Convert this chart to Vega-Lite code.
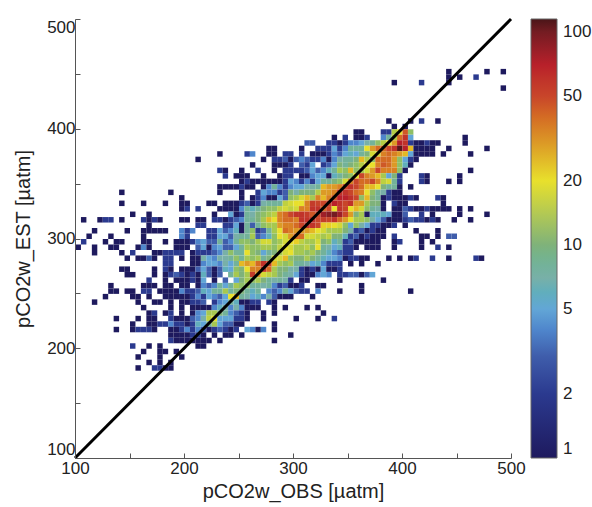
{"$schema":"https://vega.github.io/schema/vega-lite/v6.json","width":436,"height":439,"autosize":"none","padding":{"left":75,"top":19,"right":81,"bottom":49},"background":"white","config":{"font":"Liberation Sans","view":{"stroke":null}},
"layer":[{"data":{"values":[
{"x":440,"y":450,"n":1},{"x":475,"y":450,"n":1},{"x":490,"y":450,"n":1},
{"x":440,"y":445,"n":1},{"x":450,"y":445,"n":1},{"x":465,"y":445,"n":2},
{"x":390,"y":440,"n":1},{"x":415,"y":440,"n":2},{"x":440,"y":440,"n":1},
{"x":490,"y":435,"n":1},
{"x":385,"y":405,"n":1},{"x":405,"y":405,"n":1},{"x":415,"y":405,"n":2},{"x":430,"y":405,"n":1},
{"x":390,"y":400,"n":1},{"x":400,"y":400,"n":1},
{"x":355,"y":395,"n":1},{"x":360,"y":395,"n":1},{"x":380,"y":395,"n":2},{"x":385,"y":395,"n":2},{"x":390,"y":395,"n":15},{"x":395,"y":395,"n":20},{"x":400,"y":395,"n":45},{"x":405,"y":395,"n":12},
{"x":335,"y":390,"n":1},{"x":345,"y":390,"n":2},{"x":355,"y":390,"n":1},{"x":360,"y":390,"n":1},{"x":365,"y":390,"n":2},{"x":380,"y":390,"n":4},{"x":385,"y":390,"n":8},{"x":390,"y":390,"n":15},{"x":395,"y":390,"n":40},{"x":400,"y":390,"n":60},{"x":405,"y":390,"n":5},{"x":455,"y":390,"n":1},
{"x":310,"y":385,"n":3},{"x":315,"y":385,"n":3},{"x":330,"y":385,"n":2},{"x":335,"y":385,"n":2},{"x":340,"y":385,"n":1},{"x":345,"y":385,"n":2},{"x":350,"y":385,"n":4},{"x":355,"y":385,"n":4},{"x":360,"y":385,"n":5},{"x":365,"y":385,"n":7},{"x":370,"y":385,"n":8},{"x":375,"y":385,"n":12},{"x":380,"y":385,"n":15},{"x":385,"y":385,"n":20},{"x":390,"y":385,"n":30},{"x":395,"y":385,"n":70},{"x":400,"y":385,"n":60},{"x":405,"y":385,"n":2},{"x":410,"y":385,"n":1},{"x":415,"y":385,"n":1},{"x":420,"y":385,"n":2},{"x":425,"y":385,"n":1},{"x":430,"y":385,"n":1},{"x":455,"y":385,"n":1},
{"x":275,"y":380,"n":1},{"x":280,"y":380,"n":1},{"x":305,"y":380,"n":1},{"x":320,"y":380,"n":2},{"x":325,"y":380,"n":2},{"x":330,"y":380,"n":2},{"x":335,"y":380,"n":5},{"x":340,"y":380,"n":2},{"x":345,"y":380,"n":4},{"x":350,"y":380,"n":8},{"x":355,"y":380,"n":8},{"x":360,"y":380,"n":8},{"x":365,"y":380,"n":20},{"x":370,"y":380,"n":30},{"x":375,"y":380,"n":40},{"x":380,"y":380,"n":40},{"x":385,"y":380,"n":50},{"x":390,"y":380,"n":60},{"x":395,"y":380,"n":110},{"x":400,"y":380,"n":70},{"x":405,"y":380,"n":25},{"x":410,"y":380,"n":1},{"x":415,"y":380,"n":1},{"x":420,"y":380,"n":1},{"x":425,"y":380,"n":1},{"x":440,"y":380,"n":1},{"x":475,"y":380,"n":1},
{"x":230,"y":375,"n":1},{"x":255,"y":375,"n":2},{"x":260,"y":375,"n":4},{"x":275,"y":375,"n":1},{"x":280,"y":375,"n":1},{"x":290,"y":375,"n":2},{"x":295,"y":375,"n":2},{"x":305,"y":375,"n":2},{"x":315,"y":375,"n":1},{"x":320,"y":375,"n":1},{"x":325,"y":375,"n":1},{"x":330,"y":375,"n":2},{"x":335,"y":375,"n":4},{"x":340,"y":375,"n":3},{"x":345,"y":375,"n":5},{"x":350,"y":375,"n":6},{"x":355,"y":375,"n":5},{"x":360,"y":375,"n":8},{"x":365,"y":375,"n":10},{"x":370,"y":375,"n":18},{"x":375,"y":375,"n":18},{"x":380,"y":375,"n":35},{"x":385,"y":375,"n":40},{"x":390,"y":375,"n":35},{"x":395,"y":375,"n":30},{"x":400,"y":375,"n":25},{"x":405,"y":375,"n":5},{"x":410,"y":375,"n":1},{"x":415,"y":375,"n":1},{"x":420,"y":375,"n":1},{"x":425,"y":375,"n":1},{"x":435,"y":375,"n":1},{"x":460,"y":375,"n":1},
{"x":210,"y":370,"n":1},{"x":270,"y":370,"n":1},{"x":280,"y":370,"n":2},{"x":285,"y":370,"n":2},{"x":290,"y":370,"n":3},{"x":295,"y":370,"n":1},{"x":300,"y":370,"n":3},{"x":305,"y":370,"n":4},{"x":310,"y":370,"n":3},{"x":315,"y":370,"n":2},{"x":320,"y":370,"n":2},{"x":325,"y":370,"n":4},{"x":330,"y":370,"n":1},{"x":335,"y":370,"n":4},{"x":340,"y":370,"n":7},{"x":345,"y":370,"n":8},{"x":350,"y":370,"n":8},{"x":355,"y":370,"n":10},{"x":360,"y":370,"n":25},{"x":365,"y":370,"n":15},{"x":370,"y":370,"n":12},{"x":375,"y":370,"n":40},{"x":380,"y":370,"n":40},{"x":385,"y":370,"n":40},{"x":390,"y":370,"n":30},{"x":395,"y":370,"n":12},{"x":400,"y":370,"n":5},{"x":405,"y":370,"n":2},{"x":410,"y":370,"n":1},
{"x":260,"y":365,"n":1},{"x":280,"y":365,"n":1},{"x":285,"y":365,"n":1},{"x":290,"y":365,"n":1},{"x":295,"y":365,"n":2},{"x":305,"y":365,"n":3},{"x":310,"y":365,"n":2},{"x":315,"y":365,"n":5},{"x":325,"y":365,"n":2},{"x":330,"y":365,"n":3},{"x":335,"y":365,"n":5},{"x":340,"y":365,"n":10},{"x":345,"y":365,"n":8},{"x":350,"y":365,"n":10},{"x":355,"y":365,"n":12},{"x":360,"y":365,"n":15},{"x":365,"y":365,"n":20},{"x":370,"y":365,"n":20},{"x":375,"y":365,"n":35},{"x":380,"y":365,"n":45},{"x":385,"y":365,"n":40},{"x":390,"y":365,"n":30},{"x":395,"y":365,"n":12},{"x":400,"y":365,"n":6},{"x":405,"y":365,"n":1},
{"x":230,"y":360,"n":2},{"x":235,"y":360,"n":1},{"x":250,"y":360,"n":1},{"x":265,"y":360,"n":2},{"x":280,"y":360,"n":1},{"x":290,"y":360,"n":2},{"x":295,"y":360,"n":2},{"x":300,"y":360,"n":2},{"x":305,"y":360,"n":2},{"x":310,"y":360,"n":3},{"x":315,"y":360,"n":5},{"x":320,"y":360,"n":3},{"x":325,"y":360,"n":4},{"x":330,"y":360,"n":6},{"x":335,"y":360,"n":8},{"x":340,"y":360,"n":14},{"x":345,"y":360,"n":12},{"x":350,"y":360,"n":25},{"x":355,"y":360,"n":12},{"x":360,"y":360,"n":14},{"x":365,"y":360,"n":18},{"x":370,"y":360,"n":30},{"x":375,"y":360,"n":50},{"x":380,"y":360,"n":35},{"x":385,"y":360,"n":35},{"x":390,"y":360,"n":35},{"x":395,"y":360,"n":12},{"x":400,"y":360,"n":1},{"x":460,"y":360,"n":1},
{"x":235,"y":355,"n":2},{"x":245,"y":355,"n":1},{"x":250,"y":355,"n":1},{"x":255,"y":355,"n":1},{"x":270,"y":355,"n":1},{"x":285,"y":355,"n":1},{"x":290,"y":355,"n":2},{"x":295,"y":355,"n":2},{"x":305,"y":355,"n":1},{"x":310,"y":355,"n":1},{"x":315,"y":355,"n":4},{"x":320,"y":355,"n":5},{"x":325,"y":355,"n":5},{"x":330,"y":355,"n":1},{"x":335,"y":355,"n":6},{"x":340,"y":355,"n":8},{"x":345,"y":355,"n":10},{"x":350,"y":355,"n":12},{"x":355,"y":355,"n":20},{"x":360,"y":355,"n":50},{"x":365,"y":355,"n":35},{"x":370,"y":355,"n":30},{"x":375,"y":355,"n":25},{"x":380,"y":355,"n":14},{"x":385,"y":355,"n":5},{"x":390,"y":355,"n":10},{"x":395,"y":355,"n":2},{"x":415,"y":355,"n":2},{"x":420,"y":355,"n":1},{"x":450,"y":355,"n":1},
{"x":250,"y":350,"n":1},{"x":255,"y":350,"n":2},{"x":260,"y":350,"n":1},{"x":265,"y":350,"n":1},{"x":270,"y":350,"n":1},{"x":275,"y":350,"n":1},{"x":280,"y":350,"n":1},{"x":285,"y":350,"n":1},{"x":290,"y":350,"n":2},{"x":295,"y":350,"n":5},{"x":300,"y":350,"n":4},{"x":305,"y":350,"n":2},{"x":310,"y":350,"n":4},{"x":315,"y":350,"n":2},{"x":320,"y":350,"n":5},{"x":325,"y":350,"n":8},{"x":330,"y":350,"n":8},{"x":335,"y":350,"n":10},{"x":340,"y":350,"n":12},{"x":345,"y":350,"n":18},{"x":350,"y":350,"n":35},{"x":355,"y":350,"n":50},{"x":360,"y":350,"n":40},{"x":365,"y":350,"n":40},{"x":370,"y":350,"n":50},{"x":375,"y":350,"n":35},{"x":380,"y":350,"n":16},{"x":385,"y":350,"n":18},{"x":390,"y":350,"n":8},{"x":395,"y":350,"n":2},{"x":415,"y":350,"n":2},{"x":420,"y":350,"n":1},{"x":440,"y":350,"n":1},{"x":450,"y":350,"n":1},
{"x":230,"y":345,"n":1},{"x":235,"y":345,"n":1},{"x":240,"y":345,"n":1},{"x":245,"y":345,"n":1},{"x":250,"y":345,"n":2},{"x":255,"y":345,"n":1},{"x":260,"y":345,"n":1},{"x":270,"y":345,"n":1},{"x":275,"y":345,"n":4},{"x":280,"y":345,"n":8},{"x":285,"y":345,"n":4},{"x":290,"y":345,"n":2},{"x":295,"y":345,"n":4},{"x":300,"y":345,"n":5},{"x":305,"y":345,"n":5},{"x":310,"y":345,"n":7},{"x":315,"y":345,"n":7},{"x":320,"y":345,"n":8},{"x":325,"y":345,"n":25},{"x":330,"y":345,"n":30},{"x":335,"y":345,"n":30},{"x":340,"y":345,"n":35},{"x":345,"y":345,"n":50},{"x":350,"y":345,"n":60},{"x":355,"y":345,"n":50},{"x":360,"y":345,"n":40},{"x":365,"y":345,"n":25},{"x":370,"y":345,"n":25},{"x":375,"y":345,"n":20},{"x":380,"y":345,"n":10},{"x":385,"y":345,"n":8},{"x":390,"y":345,"n":8},{"x":395,"y":345,"n":1},{"x":405,"y":345,"n":1},
{"x":140,"y":340,"n":1},{"x":185,"y":340,"n":1},{"x":230,"y":340,"n":1},{"x":250,"y":340,"n":1},{"x":265,"y":340,"n":2},{"x":270,"y":340,"n":5},{"x":275,"y":340,"n":4},{"x":280,"y":340,"n":4},{"x":285,"y":340,"n":2},{"x":290,"y":340,"n":3},{"x":295,"y":340,"n":10},{"x":300,"y":340,"n":7},{"x":305,"y":340,"n":10},{"x":310,"y":340,"n":10},{"x":315,"y":340,"n":10},{"x":320,"y":340,"n":15},{"x":325,"y":340,"n":30},{"x":330,"y":340,"n":30},{"x":335,"y":340,"n":35},{"x":340,"y":340,"n":60},{"x":345,"y":340,"n":60},{"x":350,"y":340,"n":50},{"x":355,"y":340,"n":40},{"x":360,"y":340,"n":35},{"x":365,"y":340,"n":20},{"x":370,"y":340,"n":12},{"x":375,"y":340,"n":8},{"x":380,"y":340,"n":7},{"x":385,"y":340,"n":2},{"x":390,"y":340,"n":1},{"x":395,"y":340,"n":1},
{"x":195,"y":335,"n":1},{"x":250,"y":335,"n":1},{"x":260,"y":335,"n":1},{"x":265,"y":335,"n":2},{"x":270,"y":335,"n":4},{"x":275,"y":335,"n":1},{"x":280,"y":335,"n":1},{"x":285,"y":335,"n":5},{"x":290,"y":335,"n":3},{"x":295,"y":335,"n":12},{"x":300,"y":335,"n":14},{"x":305,"y":335,"n":18},{"x":310,"y":335,"n":25},{"x":315,"y":335,"n":14},{"x":320,"y":335,"n":35},{"x":325,"y":335,"n":25},{"x":330,"y":335,"n":35},{"x":335,"y":335,"n":45},{"x":340,"y":335,"n":70},{"x":345,"y":335,"n":70},{"x":350,"y":335,"n":60},{"x":355,"y":335,"n":50},{"x":360,"y":335,"n":12},{"x":365,"y":335,"n":25},{"x":370,"y":335,"n":10},{"x":375,"y":335,"n":8},{"x":380,"y":335,"n":1},{"x":385,"y":335,"n":2},{"x":390,"y":335,"n":1},{"x":395,"y":335,"n":1},{"x":400,"y":335,"n":1},{"x":405,"y":335,"n":2},{"x":410,"y":335,"n":1},{"x":430,"y":335,"n":2},{"x":435,"y":335,"n":1},
{"x":140,"y":330,"n":1},{"x":160,"y":330,"n":1},{"x":180,"y":330,"n":1},{"x":195,"y":330,"n":1},{"x":200,"y":330,"n":1},{"x":220,"y":330,"n":1},{"x":225,"y":330,"n":1},{"x":235,"y":330,"n":1},{"x":240,"y":330,"n":1},{"x":245,"y":330,"n":1},{"x":250,"y":330,"n":2},{"x":255,"y":330,"n":3},{"x":260,"y":330,"n":1},{"x":265,"y":330,"n":2},{"x":270,"y":330,"n":7},{"x":275,"y":330,"n":8},{"x":280,"y":330,"n":8},{"x":285,"y":330,"n":8},{"x":290,"y":330,"n":16},{"x":295,"y":330,"n":18},{"x":300,"y":330,"n":20},{"x":305,"y":330,"n":20},{"x":310,"y":330,"n":35},{"x":315,"y":330,"n":55},{"x":320,"y":330,"n":50},{"x":325,"y":330,"n":50},{"x":330,"y":330,"n":55},{"x":335,"y":330,"n":70},{"x":340,"y":330,"n":60},{"x":345,"y":330,"n":50},{"x":350,"y":330,"n":60},{"x":355,"y":330,"n":30},{"x":360,"y":330,"n":30},{"x":365,"y":330,"n":14},{"x":370,"y":330,"n":10},{"x":375,"y":330,"n":10},{"x":380,"y":330,"n":1},{"x":390,"y":330,"n":2},{"x":395,"y":330,"n":1},{"x":400,"y":330,"n":1},{"x":435,"y":330,"n":1},
{"x":195,"y":325,"n":1},{"x":200,"y":325,"n":2},{"x":210,"y":325,"n":2},{"x":230,"y":325,"n":1},{"x":235,"y":325,"n":1},{"x":240,"y":325,"n":1},{"x":245,"y":325,"n":1},{"x":250,"y":325,"n":4},{"x":255,"y":325,"n":8},{"x":260,"y":325,"n":6},{"x":265,"y":325,"n":8},{"x":270,"y":325,"n":10},{"x":275,"y":325,"n":12},{"x":280,"y":325,"n":12},{"x":285,"y":325,"n":16},{"x":290,"y":325,"n":18},{"x":295,"y":325,"n":16},{"x":300,"y":325,"n":18},{"x":305,"y":325,"n":35},{"x":310,"y":325,"n":35},{"x":315,"y":325,"n":60},{"x":320,"y":325,"n":60},{"x":325,"y":325,"n":40},{"x":330,"y":325,"n":50},{"x":335,"y":325,"n":20},{"x":340,"y":325,"n":60},{"x":345,"y":325,"n":50},{"x":350,"y":325,"n":20},{"x":355,"y":325,"n":25},{"x":360,"y":325,"n":18},{"x":365,"y":325,"n":12},{"x":370,"y":325,"n":8},{"x":375,"y":325,"n":7},{"x":380,"y":325,"n":1},{"x":390,"y":325,"n":1},{"x":395,"y":325,"n":1},{"x":400,"y":325,"n":3},{"x":405,"y":325,"n":2},{"x":410,"y":325,"n":1},{"x":415,"y":325,"n":1},{"x":420,"y":325,"n":2},{"x":425,"y":325,"n":1},{"x":430,"y":325,"n":1},{"x":435,"y":325,"n":1},{"x":440,"y":325,"n":1},{"x":450,"y":325,"n":1},{"x":460,"y":325,"n":1},
{"x":150,"y":320,"n":1},{"x":165,"y":320,"n":1},{"x":225,"y":320,"n":1},{"x":240,"y":320,"n":5},{"x":245,"y":320,"n":1},{"x":250,"y":320,"n":2},{"x":255,"y":320,"n":8},{"x":260,"y":320,"n":7},{"x":265,"y":320,"n":10},{"x":270,"y":320,"n":12},{"x":275,"y":320,"n":14},{"x":280,"y":320,"n":16},{"x":285,"y":320,"n":35},{"x":290,"y":320,"n":40},{"x":295,"y":320,"n":50},{"x":300,"y":320,"n":60},{"x":305,"y":320,"n":60},{"x":310,"y":320,"n":55},{"x":315,"y":320,"n":45},{"x":320,"y":320,"n":50},{"x":325,"y":320,"n":80},{"x":330,"y":320,"n":90},{"x":335,"y":320,"n":100},{"x":340,"y":320,"n":80},{"x":345,"y":320,"n":50},{"x":350,"y":320,"n":30},{"x":355,"y":320,"n":10},{"x":360,"y":320,"n":14},{"x":365,"y":320,"n":1},{"x":370,"y":320,"n":6},{"x":375,"y":320,"n":6},{"x":380,"y":320,"n":6},{"x":385,"y":320,"n":5},{"x":390,"y":320,"n":1},{"x":395,"y":320,"n":1},{"x":400,"y":320,"n":3},{"x":415,"y":320,"n":2},{"x":425,"y":320,"n":1},{"x":450,"y":320,"n":1},{"x":475,"y":320,"n":1},
{"x":105,"y":315,"n":1},{"x":120,"y":315,"n":1},{"x":125,"y":315,"n":2},{"x":130,"y":315,"n":2},{"x":140,"y":315,"n":1},{"x":160,"y":315,"n":2},{"x":165,"y":315,"n":1},{"x":170,"y":315,"n":2},{"x":175,"y":315,"n":1},{"x":195,"y":315,"n":1},{"x":200,"y":315,"n":1},{"x":210,"y":315,"n":1},{"x":215,"y":315,"n":1},{"x":225,"y":315,"n":2},{"x":230,"y":315,"n":2},{"x":235,"y":315,"n":1},{"x":240,"y":315,"n":2},{"x":245,"y":315,"n":3},{"x":250,"y":315,"n":4},{"x":255,"y":315,"n":8},{"x":260,"y":315,"n":8},{"x":265,"y":315,"n":10},{"x":270,"y":315,"n":14},{"x":275,"y":315,"n":25},{"x":280,"y":315,"n":20},{"x":285,"y":315,"n":35},{"x":290,"y":315,"n":40},{"x":295,"y":315,"n":40},{"x":300,"y":315,"n":35},{"x":305,"y":315,"n":60},{"x":310,"y":315,"n":60},{"x":315,"y":315,"n":60},{"x":320,"y":315,"n":50},{"x":325,"y":315,"n":55},{"x":330,"y":315,"n":50},{"x":335,"y":315,"n":60},{"x":340,"y":315,"n":40},{"x":345,"y":315,"n":30},{"x":350,"y":315,"n":20},{"x":355,"y":315,"n":14},{"x":360,"y":315,"n":14},{"x":365,"y":315,"n":12},{"x":370,"y":315,"n":7},{"x":375,"y":315,"n":5},{"x":380,"y":315,"n":3},{"x":385,"y":315,"n":1},{"x":390,"y":315,"n":1},{"x":395,"y":315,"n":1},{"x":400,"y":315,"n":2},{"x":405,"y":315,"n":3},{"x":410,"y":315,"n":2},{"x":415,"y":315,"n":2},{"x":420,"y":315,"n":1},{"x":425,"y":315,"n":2},{"x":430,"y":315,"n":1},{"x":445,"y":315,"n":1},{"x":460,"y":315,"n":1},
{"x":165,"y":310,"n":1},{"x":210,"y":310,"n":2},{"x":215,"y":310,"n":2},{"x":235,"y":310,"n":2},{"x":240,"y":310,"n":2},{"x":245,"y":310,"n":5},{"x":250,"y":310,"n":1},{"x":255,"y":310,"n":8},{"x":260,"y":310,"n":3},{"x":265,"y":310,"n":8},{"x":270,"y":310,"n":12},{"x":275,"y":310,"n":14},{"x":280,"y":310,"n":14},{"x":285,"y":310,"n":30},{"x":290,"y":310,"n":35},{"x":295,"y":310,"n":35},{"x":300,"y":310,"n":40},{"x":305,"y":310,"n":50},{"x":310,"y":310,"n":60},{"x":315,"y":310,"n":60},{"x":320,"y":310,"n":50},{"x":325,"y":310,"n":22},{"x":330,"y":310,"n":22},{"x":335,"y":310,"n":20},{"x":340,"y":310,"n":18},{"x":345,"y":310,"n":12},{"x":350,"y":310,"n":5},{"x":355,"y":310,"n":12},{"x":360,"y":310,"n":7},{"x":365,"y":310,"n":5},{"x":370,"y":310,"n":2},{"x":375,"y":310,"n":2},{"x":380,"y":310,"n":1},{"x":385,"y":310,"n":1},{"x":390,"y":310,"n":2},{"x":400,"y":310,"n":1},
{"x":115,"y":305,"n":1},{"x":145,"y":305,"n":1},{"x":160,"y":305,"n":1},{"x":165,"y":305,"n":1},{"x":170,"y":305,"n":1},{"x":175,"y":305,"n":1},{"x":180,"y":305,"n":1},{"x":195,"y":305,"n":4},{"x":200,"y":305,"n":2},{"x":205,"y":305,"n":4},{"x":220,"y":305,"n":2},{"x":225,"y":305,"n":2},{"x":230,"y":305,"n":5},{"x":235,"y":305,"n":3},{"x":240,"y":305,"n":4},{"x":245,"y":305,"n":6},{"x":250,"y":305,"n":1},{"x":255,"y":305,"n":8},{"x":260,"y":305,"n":12},{"x":265,"y":305,"n":2},{"x":270,"y":305,"n":3},{"x":275,"y":305,"n":8},{"x":280,"y":305,"n":14},{"x":285,"y":305,"n":20},{"x":290,"y":305,"n":40},{"x":295,"y":305,"n":35},{"x":300,"y":305,"n":30},{"x":305,"y":305,"n":30},{"x":310,"y":305,"n":30},{"x":315,"y":305,"n":25},{"x":320,"y":305,"n":20},{"x":325,"y":305,"n":18},{"x":330,"y":305,"n":14},{"x":335,"y":305,"n":14},{"x":340,"y":305,"n":14},{"x":345,"y":305,"n":10},{"x":350,"y":305,"n":7},{"x":355,"y":305,"n":2},{"x":360,"y":305,"n":3},{"x":365,"y":305,"n":1},{"x":370,"y":305,"n":2},{"x":375,"y":305,"n":1},{"x":380,"y":305,"n":1},{"x":410,"y":305,"n":1},{"x":430,"y":305,"n":1},
{"x":110,"y":300,"n":1},{"x":130,"y":300,"n":1},{"x":160,"y":300,"n":1},{"x":195,"y":300,"n":4},{"x":200,"y":300,"n":2},{"x":220,"y":300,"n":2},{"x":225,"y":300,"n":2},{"x":230,"y":300,"n":5},{"x":235,"y":300,"n":5},{"x":240,"y":300,"n":3},{"x":245,"y":300,"n":7},{"x":250,"y":300,"n":8},{"x":255,"y":300,"n":8},{"x":260,"y":300,"n":14},{"x":265,"y":300,"n":3},{"x":270,"y":300,"n":4},{"x":275,"y":300,"n":6},{"x":280,"y":300,"n":12},{"x":285,"y":300,"n":20},{"x":290,"y":300,"n":18},{"x":295,"y":300,"n":30},{"x":300,"y":300,"n":40},{"x":305,"y":300,"n":40},{"x":310,"y":300,"n":18},{"x":315,"y":300,"n":18},{"x":320,"y":300,"n":16},{"x":325,"y":300,"n":14},{"x":330,"y":300,"n":16},{"x":335,"y":300,"n":10},{"x":340,"y":300,"n":10},{"x":345,"y":300,"n":6},{"x":350,"y":300,"n":2},{"x":355,"y":300,"n":3},{"x":360,"y":300,"n":1},{"x":365,"y":300,"n":2},{"x":370,"y":300,"n":1},{"x":375,"y":300,"n":1},{"x":380,"y":300,"n":1},{"x":390,"y":300,"n":2},{"x":415,"y":300,"n":1},{"x":420,"y":300,"n":1},{"x":430,"y":300,"n":1},{"x":440,"y":300,"n":3},{"x":445,"y":300,"n":3},
{"x":105,"y":295,"n":2},{"x":125,"y":295,"n":1},{"x":135,"y":295,"n":1},{"x":140,"y":295,"n":1},{"x":160,"y":295,"n":1},{"x":165,"y":295,"n":1},{"x":180,"y":295,"n":1},{"x":190,"y":295,"n":1},{"x":195,"y":295,"n":1},{"x":200,"y":295,"n":1},{"x":205,"y":295,"n":2},{"x":210,"y":295,"n":4},{"x":215,"y":295,"n":5},{"x":220,"y":295,"n":3},{"x":225,"y":295,"n":3},{"x":230,"y":295,"n":8},{"x":235,"y":295,"n":3},{"x":240,"y":295,"n":4},{"x":245,"y":295,"n":8},{"x":250,"y":295,"n":12},{"x":255,"y":295,"n":12},{"x":260,"y":295,"n":10},{"x":265,"y":295,"n":14},{"x":270,"y":295,"n":18},{"x":275,"y":295,"n":18},{"x":280,"y":295,"n":12},{"x":285,"y":295,"n":14},{"x":290,"y":295,"n":18},{"x":295,"y":295,"n":20},{"x":300,"y":295,"n":22},{"x":305,"y":295,"n":16},{"x":310,"y":295,"n":14},{"x":315,"y":295,"n":14},{"x":320,"y":295,"n":18},{"x":325,"y":295,"n":10},{"x":330,"y":295,"n":12},{"x":335,"y":295,"n":6},{"x":340,"y":295,"n":8},{"x":345,"y":295,"n":2},{"x":350,"y":295,"n":3},{"x":355,"y":295,"n":1},{"x":360,"y":295,"n":1},{"x":365,"y":295,"n":1},{"x":370,"y":295,"n":1},{"x":375,"y":295,"n":1},{"x":390,"y":295,"n":1},{"x":395,"y":295,"n":2},{"x":415,"y":295,"n":1},{"x":425,"y":295,"n":1},
{"x":100,"y":290,"n":1},{"x":115,"y":290,"n":1},{"x":130,"y":290,"n":1},{"x":135,"y":290,"n":1},{"x":155,"y":290,"n":1},{"x":160,"y":290,"n":4},{"x":165,"y":290,"n":1},{"x":190,"y":290,"n":1},{"x":195,"y":290,"n":1},{"x":200,"y":290,"n":1},{"x":210,"y":290,"n":3},{"x":215,"y":290,"n":5},{"x":220,"y":290,"n":1},{"x":225,"y":290,"n":4},{"x":230,"y":290,"n":5},{"x":235,"y":290,"n":3},{"x":240,"y":290,"n":3},{"x":245,"y":290,"n":5},{"x":250,"y":290,"n":8},{"x":255,"y":290,"n":14},{"x":260,"y":290,"n":12},{"x":265,"y":290,"n":12},{"x":270,"y":290,"n":14},{"x":275,"y":290,"n":14},{"x":280,"y":290,"n":12},{"x":285,"y":290,"n":16},{"x":290,"y":290,"n":20},{"x":295,"y":290,"n":18},{"x":300,"y":290,"n":14},{"x":305,"y":290,"n":14},{"x":310,"y":290,"n":16},{"x":315,"y":290,"n":12},{"x":320,"y":290,"n":20},{"x":325,"y":290,"n":8},{"x":330,"y":290,"n":7},{"x":335,"y":290,"n":5},{"x":340,"y":290,"n":6},{"x":345,"y":290,"n":2},{"x":350,"y":290,"n":2},{"x":355,"y":290,"n":1},{"x":365,"y":290,"n":1},{"x":370,"y":290,"n":1},{"x":375,"y":290,"n":1},{"x":390,"y":290,"n":1},{"x":415,"y":290,"n":1},{"x":430,"y":290,"n":2},{"x":440,"y":290,"n":1},
{"x":115,"y":285,"n":1},{"x":140,"y":285,"n":1},{"x":150,"y":285,"n":2},{"x":170,"y":285,"n":1},{"x":175,"y":285,"n":1},{"x":180,"y":285,"n":2},{"x":185,"y":285,"n":2},{"x":190,"y":285,"n":2},{"x":195,"y":285,"n":2},{"x":205,"y":285,"n":1},{"x":210,"y":285,"n":2},{"x":215,"y":285,"n":2},{"x":220,"y":285,"n":2},{"x":225,"y":285,"n":3},{"x":230,"y":285,"n":4},{"x":235,"y":285,"n":7},{"x":240,"y":285,"n":12},{"x":245,"y":285,"n":8},{"x":250,"y":285,"n":8},{"x":255,"y":285,"n":20},{"x":260,"y":285,"n":12},{"x":265,"y":285,"n":10},{"x":270,"y":285,"n":5},{"x":275,"y":285,"n":8},{"x":280,"y":285,"n":10},{"x":285,"y":285,"n":14},{"x":290,"y":285,"n":18},{"x":295,"y":285,"n":20},{"x":300,"y":285,"n":14},{"x":305,"y":285,"n":14},{"x":310,"y":285,"n":12},{"x":315,"y":285,"n":14},{"x":320,"y":285,"n":10},{"x":325,"y":285,"n":8},{"x":330,"y":285,"n":6},{"x":335,"y":285,"n":4},{"x":340,"y":285,"n":3},{"x":345,"y":285,"n":2},{"x":350,"y":285,"n":2},
{"x":145,"y":280,"n":1},{"x":155,"y":280,"n":1},{"x":160,"y":280,"n":1},{"x":165,"y":280,"n":3},{"x":170,"y":280,"n":1},{"x":180,"y":280,"n":2},{"x":185,"y":280,"n":2},{"x":195,"y":280,"n":1},{"x":205,"y":280,"n":1},{"x":210,"y":280,"n":1},{"x":215,"y":280,"n":7},{"x":220,"y":280,"n":5},{"x":225,"y":280,"n":4},{"x":230,"y":280,"n":7},{"x":235,"y":280,"n":7},{"x":240,"y":280,"n":8},{"x":245,"y":280,"n":12},{"x":250,"y":280,"n":8},{"x":255,"y":280,"n":14},{"x":260,"y":280,"n":12},{"x":265,"y":280,"n":14},{"x":270,"y":280,"n":8},{"x":275,"y":280,"n":10},{"x":280,"y":280,"n":18},{"x":285,"y":280,"n":18},{"x":290,"y":280,"n":25},{"x":295,"y":280,"n":12},{"x":300,"y":280,"n":10},{"x":305,"y":280,"n":10},{"x":310,"y":280,"n":14},{"x":315,"y":280,"n":10},{"x":320,"y":280,"n":8},{"x":325,"y":280,"n":6},{"x":330,"y":280,"n":5},{"x":335,"y":280,"n":5},{"x":340,"y":280,"n":4},{"x":345,"y":280,"n":1},{"x":350,"y":280,"n":2},{"x":355,"y":280,"n":2},{"x":360,"y":280,"n":1},{"x":365,"y":280,"n":1},{"x":385,"y":280,"n":1},{"x":395,"y":280,"n":1},{"x":405,"y":280,"n":1},{"x":410,"y":280,"n":2},{"x":425,"y":280,"n":2},{"x":440,"y":280,"n":1},{"x":465,"y":280,"n":2},{"x":470,"y":280,"n":1},
{"x":180,"y":275,"n":2},{"x":185,"y":275,"n":2},{"x":205,"y":275,"n":1},{"x":210,"y":275,"n":1},{"x":215,"y":275,"n":4},{"x":220,"y":275,"n":5},{"x":225,"y":275,"n":5},{"x":230,"y":275,"n":4},{"x":235,"y":275,"n":7},{"x":240,"y":275,"n":5},{"x":245,"y":275,"n":8},{"x":250,"y":275,"n":25},{"x":255,"y":275,"n":30},{"x":260,"y":275,"n":25},{"x":265,"y":275,"n":40},{"x":270,"y":275,"n":60},{"x":275,"y":275,"n":50},{"x":280,"y":275,"n":25},{"x":285,"y":275,"n":14},{"x":290,"y":275,"n":12},{"x":295,"y":275,"n":14},{"x":300,"y":275,"n":8},{"x":305,"y":275,"n":8},{"x":310,"y":275,"n":7},{"x":315,"y":275,"n":5},{"x":320,"y":275,"n":6},{"x":325,"y":275,"n":4},{"x":330,"y":275,"n":2},{"x":335,"y":275,"n":2},{"x":340,"y":275,"n":2},{"x":350,"y":275,"n":1},{"x":360,"y":275,"n":1},{"x":375,"y":275,"n":1},
{"x":140,"y":270,"n":1},{"x":145,"y":270,"n":1},{"x":170,"y":270,"n":1},{"x":180,"y":270,"n":2},{"x":185,"y":270,"n":1},{"x":195,"y":270,"n":1},{"x":200,"y":270,"n":1},{"x":205,"y":270,"n":1},{"x":210,"y":270,"n":3},{"x":215,"y":270,"n":5},{"x":220,"y":270,"n":3},{"x":225,"y":270,"n":1},{"x":230,"y":270,"n":3},{"x":235,"y":270,"n":6},{"x":240,"y":270,"n":5},{"x":245,"y":270,"n":12},{"x":250,"y":270,"n":10},{"x":255,"y":270,"n":20},{"x":260,"y":270,"n":35},{"x":265,"y":270,"n":35},{"x":270,"y":270,"n":60},{"x":275,"y":270,"n":40},{"x":280,"y":270,"n":14},{"x":285,"y":270,"n":10},{"x":290,"y":270,"n":10},{"x":295,"y":270,"n":7},{"x":300,"y":270,"n":7},{"x":305,"y":270,"n":2},{"x":310,"y":270,"n":1},{"x":315,"y":270,"n":2},{"x":320,"y":270,"n":1},{"x":325,"y":270,"n":5},{"x":330,"y":270,"n":1},{"x":335,"y":270,"n":1},{"x":340,"y":270,"n":2},
{"x":145,"y":265,"n":1},{"x":150,"y":265,"n":1},{"x":170,"y":265,"n":1},{"x":180,"y":265,"n":1},{"x":185,"y":265,"n":2},{"x":190,"y":265,"n":3},{"x":195,"y":265,"n":2},{"x":200,"y":265,"n":1},{"x":205,"y":265,"n":2},{"x":210,"y":265,"n":1},{"x":215,"y":265,"n":6},{"x":220,"y":265,"n":3},{"x":225,"y":265,"n":1},{"x":230,"y":265,"n":3},{"x":240,"y":265,"n":8},{"x":245,"y":265,"n":14},{"x":250,"y":265,"n":10},{"x":255,"y":265,"n":14},{"x":260,"y":265,"n":55},{"x":265,"y":265,"n":30},{"x":270,"y":265,"n":18},{"x":275,"y":265,"n":16},{"x":280,"y":265,"n":14},{"x":285,"y":265,"n":10},{"x":290,"y":265,"n":8},{"x":295,"y":265,"n":7},{"x":300,"y":265,"n":5},{"x":305,"y":265,"n":2},{"x":310,"y":265,"n":1},{"x":315,"y":265,"n":1},{"x":320,"y":265,"n":4},{"x":325,"y":265,"n":5},{"x":330,"y":265,"n":4},{"x":340,"y":265,"n":2},{"x":345,"y":265,"n":2},{"x":350,"y":265,"n":3},{"x":355,"y":265,"n":3},{"x":360,"y":265,"n":1},{"x":365,"y":265,"n":3},{"x":370,"y":265,"n":5},
{"x":165,"y":260,"n":2},{"x":180,"y":260,"n":1},{"x":190,"y":260,"n":1},{"x":195,"y":260,"n":1},{"x":200,"y":260,"n":1},{"x":205,"y":260,"n":2},{"x":210,"y":260,"n":1},{"x":215,"y":260,"n":5},{"x":225,"y":260,"n":1},{"x":235,"y":260,"n":3},{"x":245,"y":260,"n":5},{"x":250,"y":260,"n":10},{"x":255,"y":260,"n":14},{"x":260,"y":260,"n":12},{"x":265,"y":260,"n":14},{"x":270,"y":260,"n":10},{"x":275,"y":260,"n":8},{"x":280,"y":260,"n":7},{"x":285,"y":260,"n":8},{"x":290,"y":260,"n":7},{"x":295,"y":260,"n":2},{"x":305,"y":260,"n":1},{"x":310,"y":260,"n":1},{"x":340,"y":260,"n":1},{"x":380,"y":260,"n":1},
{"x":130,"y":255,"n":1},{"x":160,"y":255,"n":1},{"x":165,"y":255,"n":1},{"x":170,"y":255,"n":1},{"x":180,"y":255,"n":1},{"x":185,"y":255,"n":1},{"x":195,"y":255,"n":1},{"x":200,"y":255,"n":1},{"x":210,"y":255,"n":1},{"x":215,"y":255,"n":4},{"x":220,"y":255,"n":3},{"x":225,"y":255,"n":4},{"x":230,"y":255,"n":8},{"x":235,"y":255,"n":5},{"x":240,"y":255,"n":8},{"x":245,"y":255,"n":14},{"x":250,"y":255,"n":12},{"x":255,"y":255,"n":12},{"x":260,"y":255,"n":8},{"x":265,"y":255,"n":8},{"x":270,"y":255,"n":7},{"x":275,"y":255,"n":8},{"x":280,"y":255,"n":4},{"x":285,"y":255,"n":2},{"x":290,"y":255,"n":3},{"x":295,"y":255,"n":1},{"x":300,"y":255,"n":1},{"x":305,"y":255,"n":2},{"x":320,"y":255,"n":1},{"x":325,"y":255,"n":1},{"x":360,"y":255,"n":1},
{"x":130,"y":250,"n":1},{"x":135,"y":250,"n":1},{"x":145,"y":250,"n":1},{"x":150,"y":250,"n":1},{"x":160,"y":250,"n":2},{"x":165,"y":250,"n":2},{"x":175,"y":250,"n":1},{"x":180,"y":250,"n":1},{"x":185,"y":250,"n":1},{"x":190,"y":250,"n":1},{"x":195,"y":250,"n":4},{"x":200,"y":250,"n":2},{"x":205,"y":250,"n":2},{"x":210,"y":250,"n":3},{"x":215,"y":250,"n":6},{"x":220,"y":250,"n":5},{"x":225,"y":250,"n":8},{"x":230,"y":250,"n":8},{"x":235,"y":250,"n":14},{"x":240,"y":250,"n":8},{"x":245,"y":250,"n":10},{"x":250,"y":250,"n":10},{"x":255,"y":250,"n":8},{"x":260,"y":250,"n":6},{"x":265,"y":250,"n":8},{"x":275,"y":250,"n":4},{"x":280,"y":250,"n":3},{"x":285,"y":250,"n":4},{"x":290,"y":250,"n":8},{"x":295,"y":250,"n":5},{"x":300,"y":250,"n":3},{"x":305,"y":250,"n":2},{"x":310,"y":250,"n":2},{"x":320,"y":250,"n":4},{"x":340,"y":250,"n":1},{"x":360,"y":250,"n":1},{"x":405,"y":250,"n":1},
{"x":125,"y":245,"n":1},{"x":150,"y":245,"n":1},{"x":155,"y":245,"n":1},{"x":165,"y":245,"n":1},{"x":180,"y":245,"n":1},{"x":185,"y":245,"n":1},{"x":190,"y":245,"n":1},{"x":195,"y":245,"n":1},{"x":200,"y":245,"n":1},{"x":205,"y":245,"n":2},{"x":210,"y":245,"n":4},{"x":215,"y":245,"n":2},{"x":220,"y":245,"n":5},{"x":225,"y":245,"n":4},{"x":230,"y":245,"n":3},{"x":235,"y":245,"n":5},{"x":240,"y":245,"n":20},{"x":245,"y":245,"n":25},{"x":250,"y":245,"n":8},{"x":255,"y":245,"n":7},{"x":260,"y":245,"n":5},{"x":265,"y":245,"n":6},{"x":270,"y":245,"n":4},{"x":275,"y":245,"n":7},{"x":280,"y":245,"n":3},{"x":285,"y":245,"n":1},{"x":290,"y":245,"n":1},{"x":295,"y":245,"n":1},{"x":315,"y":245,"n":1},
{"x":115,"y":240,"n":1},{"x":155,"y":240,"n":1},{"x":170,"y":240,"n":1},{"x":175,"y":240,"n":1},{"x":185,"y":240,"n":1},{"x":195,"y":240,"n":1},{"x":200,"y":240,"n":1},{"x":205,"y":240,"n":2},{"x":210,"y":240,"n":2},{"x":215,"y":240,"n":3},{"x":225,"y":240,"n":2},{"x":230,"y":240,"n":4},{"x":235,"y":240,"n":5},{"x":240,"y":240,"n":8},{"x":245,"y":240,"n":6},{"x":250,"y":240,"n":1},{"x":255,"y":240,"n":1},{"x":260,"y":240,"n":2},{"x":265,"y":240,"n":2},{"x":275,"y":240,"n":2},{"x":280,"y":240,"n":1},
{"x":160,"y":235,"n":1},{"x":185,"y":235,"n":1},{"x":195,"y":235,"n":1},{"x":205,"y":235,"n":1},{"x":210,"y":235,"n":1},{"x":215,"y":235,"n":1},{"x":220,"y":235,"n":1},{"x":225,"y":235,"n":4},{"x":230,"y":235,"n":6},{"x":235,"y":235,"n":7},{"x":240,"y":235,"n":4},{"x":245,"y":235,"n":7},{"x":250,"y":235,"n":4},{"x":255,"y":235,"n":1},{"x":260,"y":235,"n":1},{"x":265,"y":235,"n":1},{"x":280,"y":235,"n":1},{"x":290,"y":235,"n":1},{"x":310,"y":235,"n":1},{"x":320,"y":235,"n":1},
{"x":165,"y":230,"n":1},{"x":170,"y":230,"n":2},{"x":180,"y":230,"n":1},{"x":185,"y":230,"n":2},{"x":195,"y":230,"n":1},{"x":205,"y":230,"n":1},{"x":210,"y":230,"n":4},{"x":215,"y":230,"n":5},{"x":220,"y":230,"n":14},{"x":225,"y":230,"n":14},{"x":230,"y":230,"n":10},{"x":235,"y":230,"n":8},{"x":240,"y":230,"n":4},{"x":245,"y":230,"n":3},{"x":250,"y":230,"n":2},{"x":255,"y":230,"n":1},{"x":270,"y":230,"n":1},{"x":280,"y":230,"n":1},{"x":325,"y":230,"n":1},
{"x":135,"y":225,"n":1},{"x":155,"y":225,"n":1},{"x":165,"y":225,"n":1},{"x":170,"y":225,"n":1},{"x":185,"y":225,"n":2},{"x":190,"y":225,"n":1},{"x":195,"y":225,"n":1},{"x":200,"y":225,"n":1},{"x":205,"y":225,"n":3},{"x":210,"y":225,"n":4},{"x":215,"y":225,"n":7},{"x":220,"y":225,"n":16},{"x":225,"y":225,"n":20},{"x":230,"y":225,"n":5},{"x":235,"y":225,"n":5},{"x":240,"y":225,"n":5},{"x":245,"y":225,"n":2},{"x":250,"y":225,"n":2},{"x":255,"y":225,"n":1},{"x":270,"y":225,"n":1},{"x":300,"y":225,"n":1},{"x":320,"y":225,"n":1},{"x":335,"y":225,"n":2},
{"x":150,"y":220,"n":1},{"x":165,"y":220,"n":1},{"x":170,"y":220,"n":1},{"x":175,"y":220,"n":2},{"x":180,"y":220,"n":2},{"x":185,"y":220,"n":4},{"x":190,"y":220,"n":2},{"x":195,"y":220,"n":2},{"x":200,"y":220,"n":1},{"x":205,"y":220,"n":2},{"x":210,"y":220,"n":6},{"x":215,"y":220,"n":5},{"x":220,"y":220,"n":8},{"x":225,"y":220,"n":14},{"x":230,"y":220,"n":5},{"x":235,"y":220,"n":3},{"x":240,"y":220,"n":3},{"x":245,"y":220,"n":1},{"x":250,"y":220,"n":1},{"x":280,"y":220,"n":1},
{"x":135,"y":215,"n":1},{"x":150,"y":215,"n":1},{"x":155,"y":215,"n":2},{"x":160,"y":215,"n":2},{"x":165,"y":215,"n":2},{"x":170,"y":215,"n":1},{"x":185,"y":215,"n":1},{"x":190,"y":215,"n":1},{"x":195,"y":215,"n":2},{"x":200,"y":215,"n":4},{"x":205,"y":215,"n":2},{"x":210,"y":215,"n":4},{"x":215,"y":215,"n":3},{"x":220,"y":215,"n":1},{"x":225,"y":215,"n":2},{"x":230,"y":215,"n":3},{"x":235,"y":215,"n":2},{"x":240,"y":215,"n":1},{"x":245,"y":215,"n":2},{"x":255,"y":215,"n":5},{"x":260,"y":215,"n":4},{"x":265,"y":215,"n":1},{"x":270,"y":215,"n":4},{"x":280,"y":215,"n":1},
{"x":185,"y":210,"n":1},{"x":190,"y":210,"n":1},{"x":195,"y":210,"n":1},{"x":200,"y":210,"n":1},{"x":205,"y":210,"n":2},{"x":210,"y":210,"n":2},{"x":215,"y":210,"n":1},{"x":225,"y":210,"n":1},{"x":235,"y":210,"n":1},{"x":240,"y":210,"n":1},{"x":250,"y":210,"n":1},{"x":295,"y":210,"n":1},
{"x":185,"y":205,"n":2},{"x":190,"y":205,"n":1},{"x":195,"y":205,"n":1},{"x":200,"y":205,"n":1},{"x":205,"y":205,"n":1},{"x":210,"y":205,"n":1},{"x":215,"y":205,"n":1},{"x":220,"y":205,"n":1},{"x":230,"y":205,"n":1},{"x":280,"y":205,"n":1},
{"x":150,"y":200,"n":2},{"x":165,"y":200,"n":1},{"x":175,"y":200,"n":1},{"x":210,"y":200,"n":1},{"x":215,"y":200,"n":1},
{"x":160,"y":195,"n":1},{"x":175,"y":195,"n":1},{"x":180,"y":195,"n":1},{"x":190,"y":195,"n":1},
{"x":155,"y":190,"n":1},{"x":175,"y":190,"n":1},{"x":195,"y":190,"n":1},
{"x":165,"y":185,"n":1},{"x":175,"y":185,"n":1},{"x":185,"y":185,"n":1},
{"x":155,"y":180,"n":1},{"x":170,"y":180,"n":2},{"x":175,"y":180,"n":2},{"x":180,"y":180,"n":1},{"x":185,"y":180,"n":1}
]},
"mark":{"type":"rect"},
"encoding":{
"x":{"field":"x","type":"quantitative","bin":{"step":5,"extent":[100,500]},"scale":{"domain":[100,500]},"title":"pCO2w_OBS [µatm]","axis":{"values":[100,150,200,250,300,350,400,450,500],"labelExpr":"datum.value % 100 === 0 ? datum.label : ''","format":"d","grid":false,"tickSize":-5,"tickColor":"#555555","domainColor":"#555555","labelFontSize":17,"labelColor":"#222222","labelPadding":7,"labelFlush":false,"labelBound":false,"labelOverlap":false,"titleFontSize":20,"titleFontWeight":"normal","titleColor":"#222222","titlePadding":5}},
"y":{"field":"y","type":"quantitative","bin":{"step":5,"extent":[100,500]},"scale":{"domain":[100,500]},"title":"pCO2w_EST [µatm]","axis":{"values":[100,150,200,250,300,350,400,450,500],"labelExpr":"datum.value % 100 === 0 ? datum.label : ''","format":"d","grid":false,"tickSize":-5,"tickColor":"#555555","domainColor":"#555555","labelFontSize":17,"labelColor":"#222222","labelPadding":5,"labelFlush":true,"labelBound":false,"labelOverlap":false,"titleFontSize":20,"titleFontWeight":"normal","titleColor":"#222222","titlePadding":13}},
"color":{"field":"n","type":"quantitative","scale":{"type":"log","domain":[1,1.5,2,3,4,5,7,10,15,20,30,50,70,100,115],"range":["#1e1a5e","#242472","#2b3a8f","#3f5dab","#4f86cc","#62a6d6","#78b0a8","#7fb27a","#b3cb45","#e8e02c","#dc9a26","#c8452a","#b8202a","#741c22","#4a1518"]},"legend":{"title":null,"orient":"none","legendX":456,"legendY":0,"type":"gradient","direction":"vertical","gradientLength":439,"gradientThickness":26,"gradientStrokeColor":"#666666","gradientStrokeWidth":1,"values":[1,2,5,10,20,50,100],"format":"d","labelFontSize":17,"labelColor":"#222222","labelOffset":6,"encoding":{"labels":{"update":{"baseline":{"value":"middle"}}}}}}
}},
{"data":{"values":[{"x":100,"y":100},{"x":500,"y":500}]},"mark":{"type":"line","color":"#000000","strokeWidth":3},"encoding":{"x":{"field":"x","type":"quantitative"},"y":{"field":"y","type":"quantitative"}}}
]}
